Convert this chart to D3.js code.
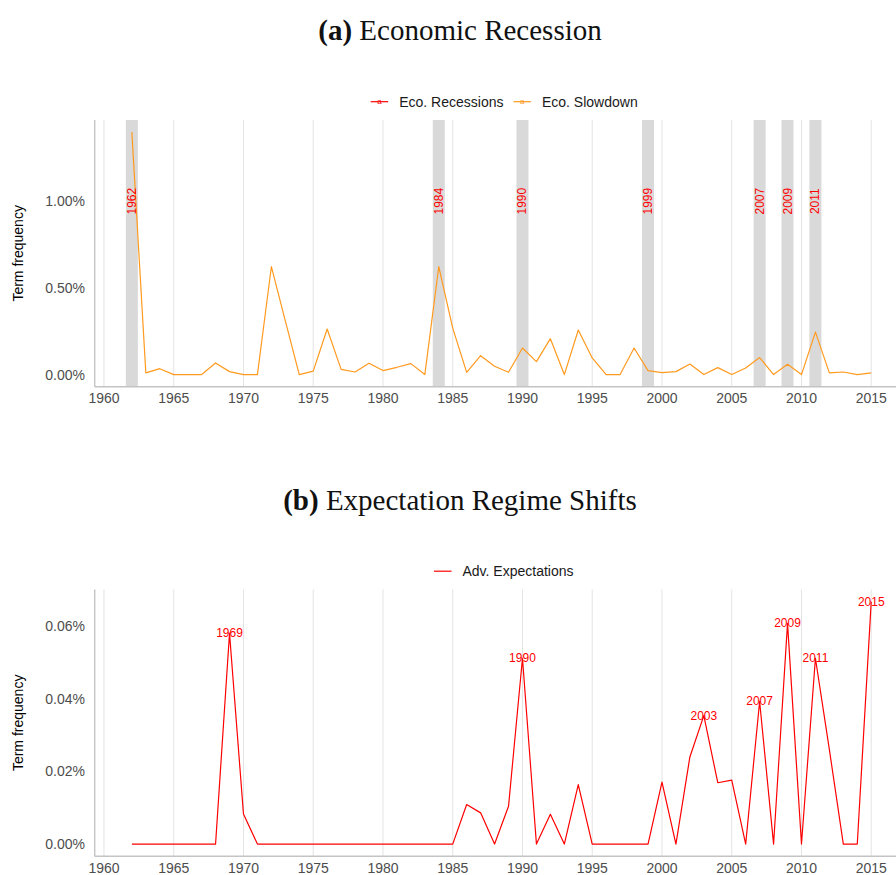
<!DOCTYPE html>
<html>
<head>
<meta charset="utf-8">
<script src="https://cdn.jsdelivr.net/npm/d3@7"></script>
<style>
  body { margin: 0; background: #fff; }
  svg { display: block; }
</style>
</head>
<body>
<svg id="chart" width="896" height="875"></svg>
<script>
// years shared by both panels
const years = d3.range(1962, 2016);

// (a) Eco. Slowdown term frequency, in percent
const slowdown = [
  1.398, 0.010, 0.034, 0.0, 0.0, 0.0, 0.067, 0.017, 0.0, 0.0,
  0.622, 0.310, 0.0, 0.020, 0.263, 0.030, 0.015, 0.065, 0.023, 0.042,
  0.063, 0.0, 0.622, 0.268, 0.013, 0.109, 0.048, 0.013, 0.153, 0.075,
  0.207, 0.0, 0.257, 0.096, 0.0, 0.0, 0.153, 0.023, 0.011, 0.017,
  0.061, 0.0, 0.040, 0.0, 0.038, 0.098, 0.0, 0.059, 0.0, 0.245,
  0.010, 0.015, 0.0, 0.010
];
// recession years (grey bands + labels)
const recessionYears = [1962, 1984, 1990, 1999, 2007, 2009, 2011];
const recessionLabelLevel = 1.0;

// (b) Adv. Expectations term frequency, in percent
const expectations = [
  0, 0, 0, 0, 0, 0, 0, 0.0581, 0.0083, 0,
  0, 0, 0, 0, 0, 0, 0, 0, 0, 0,
  0, 0, 0, 0, 0.0109, 0.0086, 0, 0.0104, 0.0512, 0,
  0.0082, 0, 0.0164, 0, 0, 0, 0, 0, 0.0171, 0,
  0.0240, 0.0354, 0.0169, 0.0176, 0, 0.0393, 0, 0.0608, 0, 0.0512,
  0.0260, 0, 0, 0.0668
];
const shiftYears = [1969, 1990, 2003, 2007, 2009, 2011, 2015];

const xTicks = d3.range(1960, 2016, 5);
const yTicksA = [0, 0.5, 1.0];
const yTicksB = [0, 0.02, 0.04, 0.06];

const RED = "#ff0000", ORANGE = "#ff9a1f";
const sans = "'Liberation Sans', Arial, sans-serif";
const serif = "'Liberation Serif', 'DejaVu Serif', serif";

const svg = d3.select("#chart");

const margin = { left: 94.7, right: 896 };
const x = d3.scaleLinear().domain([1962 - 2.65, 2015 + 2.65]).range([94.9, 908.2]);

function panel(opt) {
  const g = svg.append("g").attr("transform", `translate(0,${opt.dy})`);
  const top = 120, bottom = 386.7;
  const yMax = d3.max(opt.values);
  const pad = yMax * 0.05;
  const y = d3.scaleLinear().domain([-pad, yMax + pad]).range([bottom, top]);

  // title
  const t = g.append("text")
    .attr("x", 460).attr("y", 40)
    .attr("text-anchor", "middle")
    .attr("font-family", serif)
    .attr("font-size", 29)
    .attr("fill", "#111");
  t.append("tspan").attr("font-weight", "bold").text(opt.tag);
  t.append("tspan").text(" " + opt.title);

  // legend
  const lg = g.append("g").attr("transform", "translate(0,101.7)");
  let lx = opt.legendX;
  opt.legend.forEach(item => {
    lg.append("line").attr("x1", lx).attr("x2", lx + 17.5)
      .attr("stroke", item.color).attr("stroke-width", 1.2);
    if (item.glyph) {
      lg.append("text").attr("x", lx + 8.75).attr("y", 0)
        .attr("text-anchor", "middle").attr("dominant-baseline", "central")
        .attr("font-family", sans).attr("font-size", 8)
        .attr("fill", item.color).text("a");
    }
    const tx = lg.append("text").attr("x", lx + 28.5).attr("y", 0)
      .attr("dominant-baseline", "central")
      .attr("font-family", sans).attr("font-size", 14)
      .attr("fill", "#1a1a1a").text(item.label);
    lx += 28.5 + tx.node().getComputedTextLength() + 10;
  });

  // clip for the panel
  const clipId = "clip" + opt.tag.replace(/\W/g, "");
  g.append("clipPath").attr("id", clipId)
    .append("rect").attr("x", margin.left).attr("y", top - 2)
    .attr("width", margin.right - margin.left).attr("height", bottom - top + 4);
  const p = g.append("g").attr("clip-path", `url(#${clipId})`);

  // vertical grid
  p.selectAll("line.grid").data(xTicks).join("line")
    .attr("class", "grid")
    .attr("x1", d => x(d)).attr("x2", d => x(d))
    .attr("y1", top).attr("y2", bottom)
    .attr("stroke", "#e3e3e3").attr("stroke-width", 1);

  // recession bands
  if (opt.bands) {
    p.selectAll("rect.band").data(opt.bands).join("rect")
      .attr("class", "band")
      .attr("x", d => x(d - 0.43)).attr("width", d => x(d + 0.43) - x(d - 0.43))
      .attr("y", top).attr("height", bottom - top)
      .attr("fill", "#d9d9d9");
  }

  // line
  const line = d3.line().x((d, i) => x(years[i])).y(d => y(d));
  p.append("path").datum(opt.values)
    .attr("d", line).attr("fill", "none")
    .attr("stroke", opt.color).attr("stroke-width", 1.2)
    .attr("stroke-linejoin", "round");

  // band labels (rotated)
  if (opt.bands) {
    p.selectAll("text.blab").data(opt.bands).join("text")
      .attr("class", "blab")
      .attr("transform", d => `translate(${x(d)},${y(recessionLabelLevel)}) rotate(-90)`)
      .attr("text-anchor", "middle").attr("dominant-baseline", "central")
      .attr("font-family", sans).attr("font-size", 12)
      .attr("fill", RED).text(d => d);
  }

  // peak labels
  if (opt.peaks) {
    p.selectAll("text.plab").data(opt.peaks).join("text")
      .attr("class", "plab")
      .attr("x", d => x(d)).attr("y", d => y(opt.values[years.indexOf(d)]))
      .attr("text-anchor", "middle").attr("dominant-baseline", "central")
      .attr("font-family", sans).attr("font-size", 12)
      .attr("fill", RED).text(d => d);
  }

  // axis lines
  g.append("line").attr("x1", margin.left).attr("x2", margin.left)
    .attr("y1", top).attr("y2", bottom)
    .attr("stroke", "#c4c4c4").attr("stroke-width", 1.4);
  g.append("line").attr("x1", margin.left).attr("x2", margin.right)
    .attr("y1", bottom).attr("y2", bottom)
    .attr("stroke", "#c4c4c4").attr("stroke-width", 1.4);

  // tick labels
  g.selectAll("text.xt").data(xTicks).join("text")
    .attr("class", "xt")
    .attr("x", d => x(d)).attr("y", 403)
    .attr("text-anchor", "middle")
    .attr("font-family", sans).attr("font-size", 14)
    .attr("fill", "#4d4d4d").text(d => d);
  g.selectAll("text.yt").data(opt.yTicks).join("text")
    .attr("class", "yt")
    .attr("x", 85).attr("y", d => y(d))
    .attr("text-anchor", "end").attr("dominant-baseline", "central")
    .attr("font-family", sans).attr("font-size", 14)
    .attr("fill", "#4d4d4d").text(d => d3.format(".2%")(d / 100));

  // y axis title
  g.append("text")
    .attr("transform", `translate(18,${(top + bottom) / 2}) rotate(-90)`)
    .attr("text-anchor", "middle").attr("dominant-baseline", "central")
    .attr("font-family", sans).attr("font-size", 14)
    .attr("fill", "#000").text("Term frequency");
}

panel({
  dy: 0, tag: "(a)", title: "Economic Recession",
  values: slowdown, color: ORANGE, bands: recessionYears,
  yTicks: yTicksA, legendX: 370.7,
  legend: [
    { label: "Eco. Recessions", color: RED, glyph: true },
    { label: "Eco. Slowdown", color: ORANGE, glyph: true }
  ]
});

panel({
  dy: 469.5, tag: "(b)", title: "Expectation Regime Shifts",
  values: expectations, color: RED, peaks: shiftYears,
  yTicks: yTicksB, legendX: 434,
  legend: [
    { label: "Adv. Expectations", color: RED, glyph: false }
  ]
});
</script>
</body>
</html>
